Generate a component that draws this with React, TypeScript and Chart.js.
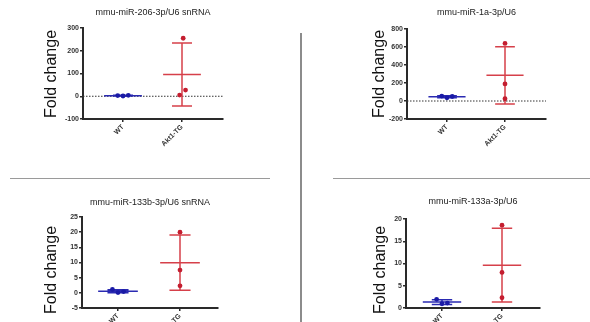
import React, { useEffect, useRef } from 'react';
import { Chart, registerables } from 'chart.js';
Chart.register(...registerables);

// ---------- data ----------
const groups = ['WT', 'Akt1-TG'];
const yLabel = 'Fold change';

const title206 = 'mmu-miR-206-3p/U6 snRNA';
const title1a = 'mmu-miR-1a-3p/U6';
const title133b = 'mmu-miR-133b-3p/U6 snRNA';
const title133a = 'mmu-miR-133a-3p/U6';

const wt206 = [3, 1, 4];
const tg206 = [255, 27, 5];
const wt1a = [55, 35, 50];
const tg1a = [640, 190, 25];
const wt133b = [1.1, 0.1, 0.4];
const tg133b = [20, 7.5, 2.3];
const wt133a = [1.95, 0.95, 1.1];
const tg133a = [18.6, 8.0, 2.3];

// horizontal scatter of the dots (in category units)
const wtJitter = [-0.09, 0, 0.09];
const tg206Jitter = [0.02, 0.06, -0.04];
const noJitter = [0, 0, 0];

const yTicks206 = [-100, 0, 100, 200, 300];
const yTicks1a = [-200, 0, 200, 400, 600, 800];
const yTicks133b = [-5, 0, 5, 10, 15, 20, 25];
const yTicks133a = [0, 5, 10, 15, 20];

// ---------- style / layout ----------
const PAGE_W = 590;
const PAGE_H = 322;
const CANVAS_H = 380;
const FONT = "'Liberation Sans', Arial, sans-serif";
const BLUE_LINE = '#2a2ab2';
const BLUE_PT = '#1a1aa6';
const RED_LINE = '#d6404a';
const RED_PT = '#c41e30';
const AXIS = '#2a2a2a';

const panels = [
  { title: title206, wt: wt206, tg: tg206, wtJ: wtJitter, tgJ: tg206Jitter, ticks: yTicks206, zero: true,
    area: { l: 83, r: 223, t: 28, b: 119 }, xWT: 123, xTG: 182, titleY: 13, labelX: 52, labelY: 74 },
  { title: title1a, wt: wt1a, tg: tg1a, wtJ: wtJitter, tgJ: noJitter, ticks: yTicks1a, zero: true,
    area: { l: 407, r: 546, t: 29, b: 119 }, xWT: 447, xTG: 505, titleY: 13, labelX: 380, labelY: 74 },
  { title: title133b, wt: wt133b, tg: tg133b, wtJ: wtJitter, tgJ: noJitter, ticks: yTicks133b, zero: false,
    area: { l: 82, r: 218, t: 217, b: 308 }, xWT: 118, xTG: 180, titleY: 203, labelX: 52, labelY: 270 },
  { title: title133a, wt: wt133a, tg: tg133a, wtJ: wtJitter, tgJ: noJitter, ticks: yTicks133a, zero: false,
    area: { l: 406, r: 540, t: 219, b: 308 }, xWT: 442, xTG: 502, titleY: 202, labelX: 381, labelY: 270 },
];

function stats(v: number[]) {
  const m = v.reduce((s, x) => s + x, 0) / v.length;
  const sd = Math.sqrt(v.reduce((s, x) => s + (x - m) * (x - m), 0) / (v.length - 1));
  return { m, sd };
}

function errorShape(c: number, v: number[]) {
  const { m, sd } = stats(v);
  const half = 0.32;
  const cap = 0.17;
  const gap = { x: c, y: null as any };
  return [
    { x: c - half, y: m }, { x: c + half, y: m }, gap,
    { x: c, y: m - sd }, { x: c, y: m + sd }, gap,
    { x: c - cap, y: m - sd }, { x: c + cap, y: m - sd }, gap,
    { x: c - cap, y: m + sd }, { x: c + cap, y: m + sd },
  ];
}

const panelText = {
  id: 'panelText',
  afterDraw(chart: any, _args: any, opts: any) {
    const ctx = chart.ctx;
    const a = chart.chartArea;
    ctx.save();
    ctx.fillStyle = '#222';
    ctx.font = `9px ${FONT}`;
    ctx.textAlign = 'center';
    ctx.textBaseline = 'middle';
    ctx.fillText(opts.title, (a.left + a.right) / 2, opts.titleY);
    ctx.translate(opts.labelX, opts.labelY);
    ctx.rotate(-Math.PI / 2);
    ctx.fillStyle = '#111';
    ctx.font = `16px ${FONT}`;
    ctx.fillText(yLabel, 0, 0);
    ctx.restore();
  },
};

function Panel({ cfg }: { cfg: any }) {
  const ref = useRef<HTMLCanvasElement>(null);
  useEffect(() => {
    const a = cfg.area;
    const ppu = cfg.xTG - cfg.xWT;
    const xmin = 1 - (cfg.xWT - a.l) / ppu;
    const xmax = xmin + (a.r - a.l) / ppu;
    const Y_W = 22;
    const X_H = 40;
    const ymin = cfg.ticks[0];
    const ymax = cfg.ticks[cfg.ticks.length - 1];
    const step = cfg.ticks[1] - cfg.ticks[0];
    const tickFont = { family: FONT, size: 7, weight: 'bold' as const };

    const datasets: any[] = [
      {
        data: cfg.wt.map((y: number, i: number) => ({ x: 1 + cfg.wtJ[i], y })),
        pointRadius: 2.4, pointBackgroundColor: BLUE_PT, pointBorderColor: BLUE_PT, pointBorderWidth: 0,
        showLine: false, order: 0,
      },
      {
        data: cfg.tg.map((y: number, i: number) => ({ x: 2 + cfg.tgJ[i], y })),
        pointRadius: 2.4, pointBackgroundColor: RED_PT, pointBorderColor: RED_PT, pointBorderWidth: 0,
        showLine: false, order: 0,
      },
      {
        data: errorShape(1, cfg.wt), showLine: true, spanGaps: false, pointRadius: 0,
        borderColor: BLUE_LINE, borderWidth: 1.5, order: 1,
      },
      {
        data: errorShape(2, cfg.tg), showLine: true, spanGaps: false, pointRadius: 0,
        borderColor: RED_LINE, borderWidth: 1.5, order: 1,
      },
    ];
    if (cfg.zero) {
      datasets.push({
        data: [{ x: xmin, y: 0 }, { x: xmax, y: 0 }], showLine: true, pointRadius: 0,
        borderColor: '#333', borderWidth: 1, borderDash: [1.5, 1.5], order: 2,
      });
    }

    const chart = new Chart(ref.current as HTMLCanvasElement, {
      type: 'scatter',
      data: { datasets },
      options: {
        animation: false,
        responsive: false,
        events: [],
        layout: { padding: { left: a.l - Y_W, top: a.t, right: PAGE_W - a.r, bottom: CANVAS_H - a.b - X_H } },
        plugins: {
          legend: { display: false },
          tooltip: { enabled: false },
          title: { display: false },
          panelText: { title: cfg.title, titleY: cfg.titleY, labelX: cfg.labelX, labelY: cfg.labelY },
        } as any,
        scales: {
          x: {
            type: 'linear', min: xmin, max: xmax,
            afterBuildTicks: (s: any) => { s.ticks = [{ value: 1 }, { value: 2 }]; },
            afterFit: (s: any) => { s.height = X_H; },
            ticks: {
              callback: (v: any) => (v === 1 ? groups[0] : v === 2 ? groups[1] : ''),
              minRotation: 45, maxRotation: 45, autoSkip: false, padding: 1,
              font: tickFont, color: '#333',
            },
            grid: { drawOnChartArea: false, drawTicks: true, tickLength: 3, color: AXIS, lineWidth: 1.5 },
            border: { display: true, color: AXIS, width: 2 },
          },
          y: {
            type: 'linear', min: ymin, max: ymax,
            afterFit: (s: any) => { s.width = Y_W; },
            ticks: { stepSize: step, padding: 1, font: tickFont, color: '#333' },
            grid: { drawOnChartArea: false, drawTicks: true, tickLength: 3, color: AXIS, lineWidth: 1.5 },
            border: { display: true, color: AXIS, width: 2 },
          },
        },
      } as any,
      plugins: [panelText],
    });
    return () => chart.destroy();
  }, [cfg]);
  return (
    <canvas
      ref={ref}
      width={PAGE_W}
      height={CANVAS_H}
      style={{ position: 'absolute', left: 0, top: 0, width: PAGE_W, height: CANVAS_H }}
    />
  );
}

export default function App() {
  return (
    <div
      style={{
        position: 'fixed', left: 0, top: 0, width: PAGE_W, height: PAGE_H,
        overflow: 'hidden', background: '#fff',
      }}
    >
      <div style={{ position: 'absolute', left: 300, top: 33, width: 1.5, height: PAGE_H - 33, background: '#8c8c8c' }} />
      <div style={{ position: 'absolute', left: 10, top: 177.5, width: 260, height: 1.5, background: '#9a9a9a' }} />
      <div style={{ position: 'absolute', left: 333, top: 177.5, width: PAGE_W - 333, height: 1.5, background: '#9a9a9a' }} />
      {panels.map((p, i) => (
        <Panel key={i} cfg={p} />
      ))}
    </div>
  );
}
